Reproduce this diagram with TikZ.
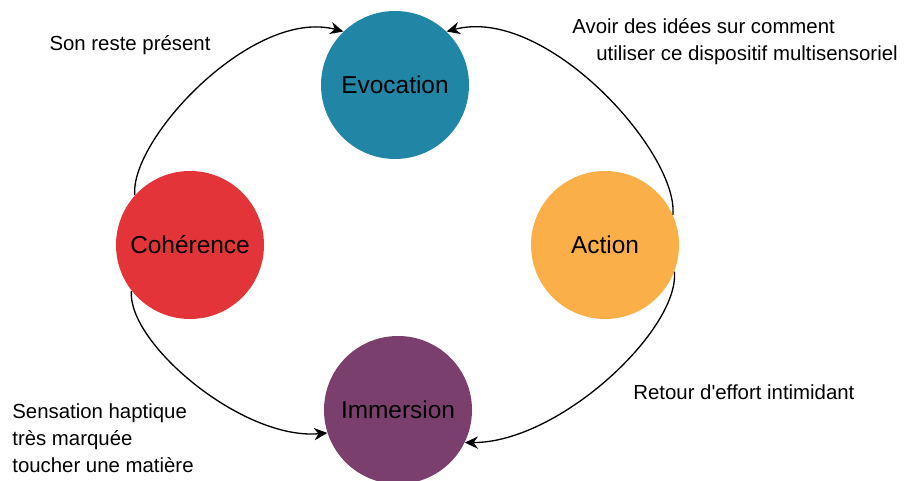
\documentclass[tikz,border=0pt]{standalone}
\usepackage{fontspec}
\setmainfont{Liberation Sans}
\usetikzlibrary{arrows.meta}

\definecolor{evoc}{RGB}{33,133,166}
\definecolor{cohe}{RGB}{227,52,58}
\definecolor{acti}{RGB}{251,175,72}
\definecolor{imme}{RGB}{123,63,110}

\begin{document}
\begin{tikzpicture}
  \tikzset{vertex/.style = {shape=circle,minimum size=2.96cm,inner sep=1pt,font=\fontsize{13.9}{16}\selectfont}}
  \tikzset{edge/.style = {-{Stealth[length=7.5pt,width=7pt,inset=2.5pt]},line width=0.75pt,out looseness=0.55,in looseness=0.9}}
  \tikzset{lbl/.style = {inner sep=0pt,align=left,font=\fontsize{11.6}{15.5}\selectfont}}

  \useasboundingbox (0,0) rectangle (18.28,9.62);

	\node[vertex,fill=evoc] (E) at (7.90,7.92) {Evocation};
	\node[vertex,fill=cohe] (C) at (3.80,4.72) {Cohérence};
	\node[vertex,fill=acti] (A) at (12.10,4.72) {Action};
	\node[vertex,fill=imme] (I) at (7.96,1.42) {Immersion};

	\node[lbl] (sonreste) at (2.60,8.72) {Son reste présent};
	\node[lbl,anchor=west] (idees) at (11.44,8.79) {Avoir des idées sur comment\\\hspace*{0.48cm}utiliser ce dispositif multisensoriel};
	\node[lbl,anchor=west] (retour) at (12.66,1.78) {Retour d\textquotesingle effort intimidant};
	\node[lbl,anchor=west] (haptique) at (0.24,0.86) {Sensation haptique\\très marquée\\toucher une matière};

       \foreach \from/\a/\o/\i/\to/\b in {C/138/95/165/E/134, A/24/85/15/E/46, A/-21/-85/0/I/-26, C/218/-95/185/I/198}
    \draw[edge] (\from.\a) to[out=\o,in=\i] (\to.\b);
\end{tikzpicture}
\end{document}
